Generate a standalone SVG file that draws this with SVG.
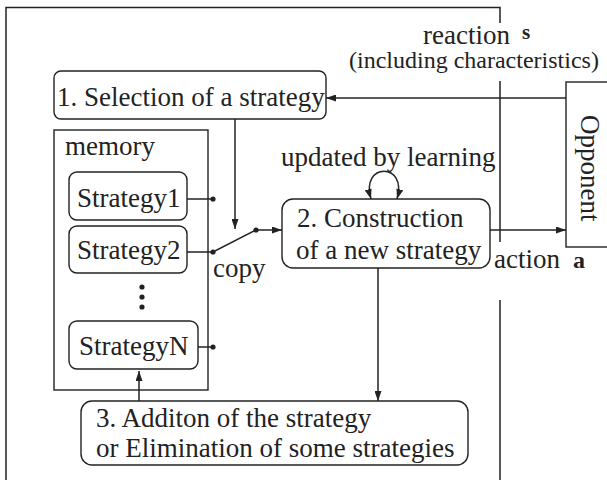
<svg xmlns="http://www.w3.org/2000/svg" width="607" height="480" viewBox="0 0 607 480">
  <defs>
    <style>
      .box { fill: #ffffff; stroke: #222222; stroke-width: 1.4; }
      .line { fill: none; stroke: #222222; stroke-width: 1.5; }
      .dot { fill: #222222; }
      .t { font-family: "Liberation Serif", "Times New Roman", serif; font-size: 27px; fill: #222222; }
      .small { font-size: 24px; }
      .tb { font-family: "Liberation Serif", "Times New Roman", serif; font-weight: bold; fill: #222222; }
    </style>
    <marker id="arrow" viewBox="0 0 10 7" refX="10" refY="3.5" markerWidth="10" markerHeight="7" markerUnits="userSpaceOnUse" orient="auto-start-reverse">
      <path d="M0,0 L10,3.5 L0,7 z" fill="#222222"/>
    </marker>
  </defs>
  <rect width="607" height="480" fill="#ffffff"/>

  <!-- agent frame, open at the bottom, broken on the right for labels -->
  <g id="frame" class="line">
    <path d="M6,490 L6,7.5 L500,7.5 L500,23"/>
    <path d="M500,81 L500,242"/>
    <path d="M500,300 L500,490"/>
  </g>

  <g id="labels">
    <text class="t" x="423" y="44" font-size="26">reaction</text>
    <text class="tb" x="522" y="39" font-size="21">s</text>
    <text class="t small" x="349" y="68">(including characteristics)</text>
    <text class="t" x="281" y="166">updated by learning</text>
    <text class="t" x="213" y="277">copy</text>
    <text class="t" x="494" y="268">action</text>
    <text class="tb" x="573" y="268" font-size="24">a</text>
  </g>

  <g id="selection">
    <rect class="box" x="54" y="71" width="272" height="48" rx="7"/>
    <text class="t" x="57" y="106">1. Selection of a strategy</text>
  </g>

  <g id="memory">
    <rect class="box" x="54" y="130" width="154" height="260"/>
    <text class="t" x="65" y="155">memory</text>
    <circle class="dot" cx="142" cy="287" r="2.6"/>
    <circle class="dot" cx="142" cy="297" r="2.6"/>
    <circle class="dot" cx="142" cy="307" r="2.6"/>
  </g>

  <g id="strategy1">
    <rect class="box" x="69" y="172" width="118" height="48" rx="8"/>
    <text class="t" x="77" y="207">Strategy1</text>
  </g>

  <g id="strategy2">
    <rect class="box" x="69" y="226" width="118" height="47" rx="8"/>
    <text class="t" x="77" y="259">Strategy2</text>
  </g>

  <g id="strategyN">
    <rect class="box" x="69" y="321" width="129" height="48" rx="8"/>
    <text class="t" x="79" y="355">StrategyN</text>
  </g>

  <g id="construction">
    <rect class="box" x="282" y="199" width="208" height="69" rx="11"/>
    <text class="t" x="297" y="227">2. Construction</text>
    <text class="t" x="296" y="259">of a new strategy</text>
  </g>

  <g id="addition">
    <rect class="box" x="81" y="401" width="387" height="64" rx="11"/>
    <text class="t" x="96" y="427">3. Additon of the strategy</text>
    <text class="t" x="96" y="457">or Elimination of some strategies</text>
  </g>

  <g id="opponent">
    <rect class="box" x="566" y="82" width="60" height="165"/>
    <text class="t" transform="translate(581,115) rotate(90)">Opponent</text>
  </g>

  <g id="connectors">
    <path class="line" d="M566,98 L326,98" marker-end="url(#arrow)"/>
    <path class="line" d="M235,119 L235,229" marker-end="url(#arrow)"/>
    <path class="line" d="M187,199 L213,199"/>
    <circle class="dot" cx="213" cy="199" r="2.6"/>
    <path class="line" d="M187,252 L213,252 L256,230"/>
    <circle class="dot" cx="213" cy="252" r="2.6"/>
    <circle class="dot" cx="256" cy="230" r="2.6"/>
    <path class="line" d="M256,230 L282,230" marker-end="url(#arrow)"/>
    <path class="line" d="M198,347 L213,347"/>
    <circle class="dot" cx="213" cy="347" r="2.6"/>
    <path class="line" d="M490,230 L566,230" marker-end="url(#arrow)"/>
    <path class="line" d="M378,268 L378,401" marker-end="url(#arrow)"/>
    <path class="line" d="M139,401 L139,371" marker-end="url(#arrow)"/>
    <path class="line" d="M371,199 C360,162 408,162 397,199" marker-start="url(#arrow)" marker-end="url(#arrow)"/>
  </g>
</svg>
